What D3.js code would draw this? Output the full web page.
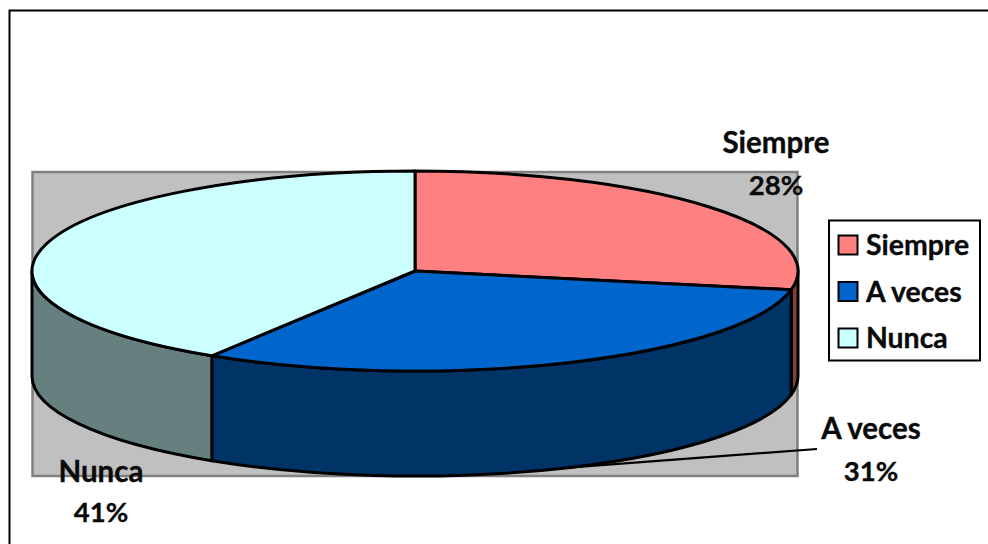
<!DOCTYPE html>
<html><head><meta charset="utf-8">
<script src="https://cdn.jsdelivr.net/npm/d3@7"></script>
<style>html,body{margin:0;padding:0;background:#fff}svg{display:block}text{font-family:Lato,"Open Sans",sans-serif;font-weight:700;fill:#0a0a0a;stroke:#0a0a0a;stroke-width:.35px}</style>
</head><body><svg id="c" width="988" height="544"></svg>
<script>
const categories = ["Siempre", "A veces", "Nunca"];
const values = [28, 30.9, 41.1];
const percentLabels = ["28%", "31%", "41%"];
const topColors = ["#FF8080", "#0066CC", "#CCFFFF"];
const sideColors = ["#804040", "#003366", "#668080"];

const svg = d3.select("#c");
const cx = 415, cy = 271, rx = 383, ry = 100, depth = 105;
const lw = 3;

const sx = d3.scaleLinear().domain([-1, 1]).range([cx - rx, cx + rx]);
const sy = d3.scaleLinear().domain([-1, 1]).range([cy - ry, cy + ry]);
const px = a => sx(Math.sin(a));
const py = (a, d = 0) => sy(-Math.cos(a)) + d;

const arcs = d3.pie().sort(null).value(d => d)(values);
const color = d3.scaleOrdinal(categories, topColors);
const side = d3.scaleOrdinal(categories, sideColors);

// outer frame (runs off the right and bottom of the picture)
svg.append("rect").attr("x", 9.5).attr("y", 10.5).attr("width", 1100).attr("height", 800)
  .attr("fill", "#fff").attr("stroke", "#000").attr("stroke-width", 2);

// plot area
svg.append("rect").attr("x", 32.5).attr("y", 172).attr("width", 765).attr("height", 304)
  .attr("fill", "#C0C0C0").attr("stroke", "#808080").attr("stroke-width", 2.5);

// side walls: visible only on the front half of the disc
const front0 = Math.PI / 2, front1 = Math.PI * 1.5;
arcs.forEach((s, i) => {
  const a0 = Math.max(s.startAngle, front0), a1 = Math.min(s.endAngle, front1);
  if (a1 <= a0) return;
  const p = `M${px(a0)},${py(a0)} A${rx},${ry} 0 0 1 ${px(a1)},${py(a1)} L${px(a1)},${py(a1, depth)} A${rx},${ry} 0 0 0 ${px(a0)},${py(a0, depth)} Z`;
  svg.append("path").attr("d", p).attr("fill", side(categories[i]))
    .attr("stroke", "#000").attr("stroke-width", lw).attr("stroke-linejoin", "round");
});

// top face
arcs.forEach((s, i) => {
  const large = s.endAngle - s.startAngle > Math.PI ? 1 : 0;
  const p = `M${cx},${cy} L${px(s.startAngle)},${py(s.startAngle)} A${rx},${ry} 0 ${large} 1 ${px(s.endAngle)},${py(s.endAngle)} Z`;
  svg.append("path").attr("d", p).attr("fill", color(categories[i]))
    .attr("stroke", "#000").attr("stroke-width", lw).attr("stroke-linejoin", "round");
});

// data labels
const labelPos = [[776, 153, 195], [871, 439, 481], [101, 482, 522]];
categories.forEach((c, i) => {
  const [x, y1, y2] = labelPos[i];
  svg.append("text").attr("x", x).attr("y", y1).attr("text-anchor", "middle").attr("font-size", 29.5).text(c);
  svg.append("text").attr("x", x).attr("y", y2).attr("text-anchor", "middle").attr("font-size", 27.5).text(percentLabels[i]);
});

// leader line for "A veces", to the middle of its slice
const leaderA = (arcs[1].startAngle + arcs[1].endAngle) / 2;
svg.append("path")
  .attr("d", `M817,449 L${px(leaderA)},${py(leaderA, depth)}`)
  .attr("fill", "none").attr("stroke", "#000").attr("stroke-width", 2.2);

// legend
svg.append("rect").attr("x", 829).attr("y", 220.5).attr("width", 151).attr("height", 140)
  .attr("fill", "#fff").attr("stroke", "#000").attr("stroke-width", 2);
const legendY = d3.scalePoint().domain(categories).range([245, 338]);
categories.forEach(c => {
  const y = legendY(c);
  svg.append("rect").attr("x", 838.5).attr("y", y - 9.5).attr("width", 19).attr("height", 19)
    .attr("fill", color(c)).attr("stroke", "#000").attr("stroke-width", 2);
  svg.append("text").attr("x", 866).attr("y", y + 10).attr("font-size", 28.4).text(c);
});
</script></body></html>
